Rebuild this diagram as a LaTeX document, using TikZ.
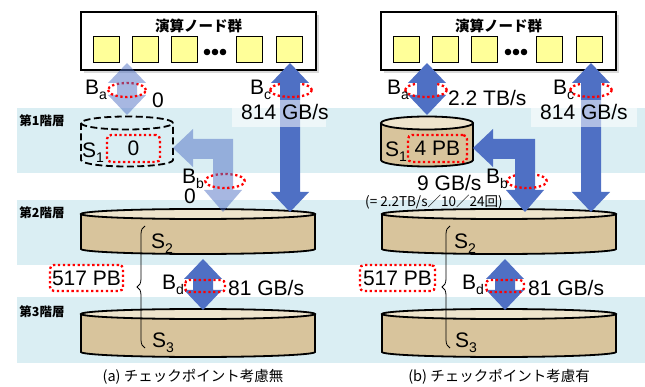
\documentclass[tikz,border=0pt]{standalone}
\usepackage{fontspec}
\setmainfont{Liberation Sans}
\newfontfamily\jp{Noto Sans CJK JP}
\usetikzlibrary{decorations.pathreplacing}
\definecolor{band}{HTML}{DAEEF3}
\definecolor{arr}{HTML}{4F70C4}
\definecolor{tanc}{HTML}{D8C49C}
\definecolor{tanl}{HTML}{EEE4CC}
\definecolor{sqc}{HTML}{FFFF99}
\newcommand{\labfont}{\fontsize{21}{22}\selectfont}
\newcommand{\sbs}[1]{\raisebox{-5pt}{\fontsize{14}{14}\selectfont #1}}
\newcommand{\vdarr}[4]{%
 \fill[#1] (#2,#3) -- ({#2+19},{#3+20}) -- ({#2+10},{#3+20}) -- ({#2+10},{#4-20}) -- ({#2+19},{#4-20}) -- (#2,#4) -- ({#2-19},{#4-20}) -- ({#2-10},{#4-20}) -- ({#2-10},{#3+20}) -- ({#2-19},{#3+20}) -- cycle;}
\newcommand{\elbarr}[3]{%
 \fill[#1] (#2,148) -- ({#2+20},129) -- ({#2+20},139) -- ({#3+10},139) -- ({#3+10},190) -- ({#3+19},190) -- (#3,212) -- ({#3-19},190) -- ({#3-10},190) -- ({#3-10},159) -- ({#2+20},159) -- ({#2+20},167) -- cycle;}
\newcommand{\ringback}[4]{\draw[reddot] ({#1+#3},#2) arc[start angle=0,end angle=180,x radius=#3pt,y radius=#4pt];}
\newcommand{\ringfront}[4]{\draw[reddot] ({#1-#3},#2) arc[start angle=180,end angle=360,x radius=#3pt,y radius=#4pt];}
\begin{document}
\begin{tikzpicture}[x=1pt,y=-1pt,
  lbl/.style={inner sep=0pt, font=\labfont},
  reddot/.style={draw=red, line width=2.3pt, dash pattern=on 2.3pt off 2.6pt},
  rbox/.style={reddot, rounded corners=4pt, inner sep=0pt, font=\labfont},
  cylbody/.style={fill=tanc, draw=black, line width=1.8pt},
  cyltop/.style={fill=tanl, draw=black, line width=1.8pt},
  arrsolid/.style={fill=arr},
  arrlight/.style={fill=arr, fill opacity=0.5},
  sqn/.style={draw=black, line width=1pt, fill=sqc, minimum size=26pt, inner sep=0pt},
  cbox/.style={draw=black, line width=2.2pt, fill=white, minimum width=235pt, minimum height=58pt, inner sep=0pt},
  tier/.style={font=\jp\bfseries\fontsize{12.5}{13}\selectfont, inner sep=0pt},
  capt/.style={font=\jp\fontsize{14.5}{15}\selectfont, inner sep=0pt}]
\useasboundingbox (0,0) rectangle (645,387);
% bands
\fill[band] (17,108) rectangle (645,173);
\fill[band] (17,200) rectangle (645,265);
\fill[band] (17,297) rectangle (645,363);
\node[tier] (t1) at (42,121) {第1階層};
\node[tier] (t2) at (42,213) {第2階層};
\node[tier] (t3) at (42,312) {第3階層};
% compute boxes
\fill[black, opacity=0.15] (84,15) rectangle (319,73);
\fill[black, opacity=0.15] (384,15) rectangle (619,73);
\node[cbox] (cbl) at (198.5,41) {};
\node[cbox] (cbr) at (498.5,41) {};
\node[font=\jp\bfseries\fontsize{14.5}{15}\selectfont, inner sep=0pt] (tl) at (198.5,26) {演算ノード群};
\node[font=\jp\bfseries\fontsize{14.5}{15}\selectfont, inner sep=0pt] (tr) at (498.5,26) {演算ノード群};
\foreach \x [count=\i] in {106.5,145,184.5,249,289}{
  \node[sqn] (ql\i) at (\x,50) {};
  \node[sqn] (qr\i) at (\x+300,50) {};}
\foreach \x in {207,215,223}{
  \fill (\x,52) circle (3.3pt);
  \fill (\x+301,52) circle (3.3pt);}
% cylinders S3
\draw[cylbody] (81,314) -- (81,352) arc[start angle=180,end angle=360,x radius=117pt,y radius=5pt] -- (315,314);
\draw[cyltop] (198,314) ellipse[x radius=117pt,y radius=5pt];
\draw[cylbody] (382,314) -- (382,352) arc[start angle=180,end angle=360,x radius=117pt,y radius=5pt] -- (616,314);
\draw[cyltop] (499,314) ellipse[x radius=117pt,y radius=5pt];
% S2
\draw[cylbody] (81,214) -- (81,249) arc[start angle=180,end angle=360,x radius=117pt,y radius=5pt] -- (315,214);
\draw[cyltop] (198,214) ellipse[x radius=117pt,y radius=5pt];
\draw[cylbody] (382,214) -- (382,249) arc[start angle=180,end angle=360,x radius=117pt,y radius=5pt] -- (616,214);
\draw[cyltop] (499,214) ellipse[x radius=117pt,y radius=5pt];
% S1 left dashed
\draw[black, line width=1.8pt, dash pattern=on 7pt off 3.5pt] (81,123) -- (81,160) arc[start angle=180,end angle=360,x radius=46pt,y radius=6.5pt] -- (173,123);
\draw[black, line width=1.8pt, dash pattern=on 7pt off 3.5pt] (127,123) ellipse[x radius=46pt,y radius=6.5pt];
% S1 right
\draw[cylbody] (381,123) -- (381,160) arc[start angle=180,end angle=360,x radius=46pt,y radius=6.5pt] -- (473,123);
\draw[cyltop] (427,123) ellipse[x radius=46pt,y radius=6.5pt];
% red rings back halves
\ringback{127}{90}{19}{7}
\ringback{291}{90}{21}{7}
\ringback{426}{90}{21}{7}
\ringback{591}{90}{21}{7}
\ringback{225}{181}{20}{7}
\ringback{527}{181}{20}{7}
% arrows
\vdarr{arrlight}{127}{63}{115}
\elbarr{arrlight}{173}{223}
\vdarr{arrsolid}{290}{63}{212}
\vdarr{arrsolid}{203}{259}{310}
\vdarr{arrsolid}{427}{63}{115}
\elbarr{arrsolid}{473}{525}
\vdarr{arrsolid}{591}{63}{212}
\vdarr{arrsolid}{505}{259}{310}
% red rings front halves
\ringfront{127}{90}{19}{7}
\ringfront{291}{90}{21}{7}
\ringfront{426}{90}{21}{7}
\ringfront{591}{90}{21}{7}
\ringfront{225}{181}{20}{7}
\ringfront{527}{181}{20}{7}
\draw[reddot, rounded corners=4pt] (185,280) rectangle (225,292);
\draw[reddot, rounded corners=4pt] (486,280) rectangle (524,292);
% label backgrounds
\fill[white, opacity=0.55] (232,100) rectangle (326,127);
\fill[white, opacity=0.55] (531,100) rectangle (637,127);
% labels left
\node[lbl, anchor=base west] (bal) at (85,95) {B\sbs{a}};
\node[lbl, anchor=base west] (zal) at (152,108) {0};
\node[lbl, anchor=base west] (bcl) at (250,95) {B\sbs{c}};
\node[lbl, anchor=base west] (vcl) at (241,120) {814 GB/s};
\node[lbl, anchor=base west] (s1l) at (82,158) {S\sbs{1}};
\node[rbox, minimum width=53pt, minimum height=27pt] (v1l) at (133.5,148.5) {0};
\node[lbl, anchor=base west] (bbl) at (182,184) {B\sbs{b}};
\node[lbl, anchor=base west] (zbl) at (184,204) {0};
\node[lbl, anchor=base west] (s2l) at (151,249) {S\sbs{2}};
\node[lbl, anchor=base west] (s3l) at (152,347) {S\sbs{3}};
\node[lbl, anchor=base west] (bdl) at (162,290) {B\sbs{d}};
\node[lbl, anchor=base west] (vdl) at (228,295) {81 GB/s};
\node[rbox, minimum width=73pt, minimum height=26pt] (cpl) at (86.5,278) {517 PB};
% labels right
\node[lbl, anchor=base west] (bar) at (387,95) {B\sbs{a}};
\node[lbl, anchor=base west] (var) at (448,106) {2.2 TB/s};
\node[lbl, anchor=base west] (bcr) at (553,95) {B\sbs{c}};
\node[lbl, anchor=base west] (vcr) at (540,120) {814 GB/s};
\node[lbl, anchor=base west] (s1r) at (385,157) {S\sbs{1}};
\node[rbox, minimum width=59pt, minimum height=27pt] (v1r) at (437.5,148.5) {4 PB};
\node[lbl, anchor=base west] (bbr) at (486,184) {B\sbs{b}};
\node[lbl, anchor=base west] (vbr) at (417,191) {9 GB/s};
\node[font=\jp\fontsize{13.5}{14}\selectfont, inner sep=0pt, anchor=base west] (eqr) at (365,207) {(= 2.2TB/s／10／24回)};
\node[lbl, anchor=base west] (s2r) at (454,249) {S\sbs{2}};
\node[lbl, anchor=base west] (s3r) at (455,347) {S\sbs{3}};
\node[lbl, anchor=base west] (bdr) at (462,290) {B\sbs{d}};
\node[lbl, anchor=base west] (vdr) at (528,295) {81 GB/s};
\node[rbox, minimum width=75pt, minimum height=26pt] (cpr) at (397.5,278) {517 PB};
% braces
\draw[decorate, decoration={brace, amplitude=8pt}, line width=0.8pt] (145,348) -- (145,226);
\draw[decorate, decoration={brace, amplitude=8pt}, line width=0.8pt] (450,348) -- (450,226);
% captions
\node[capt] (cap1) at (193,377) {(a) チェックポイント考慮無};
\node[capt] (cap2) at (499,377) {(b) チェックポイント考慮有};
\end{tikzpicture}
\end{document}
